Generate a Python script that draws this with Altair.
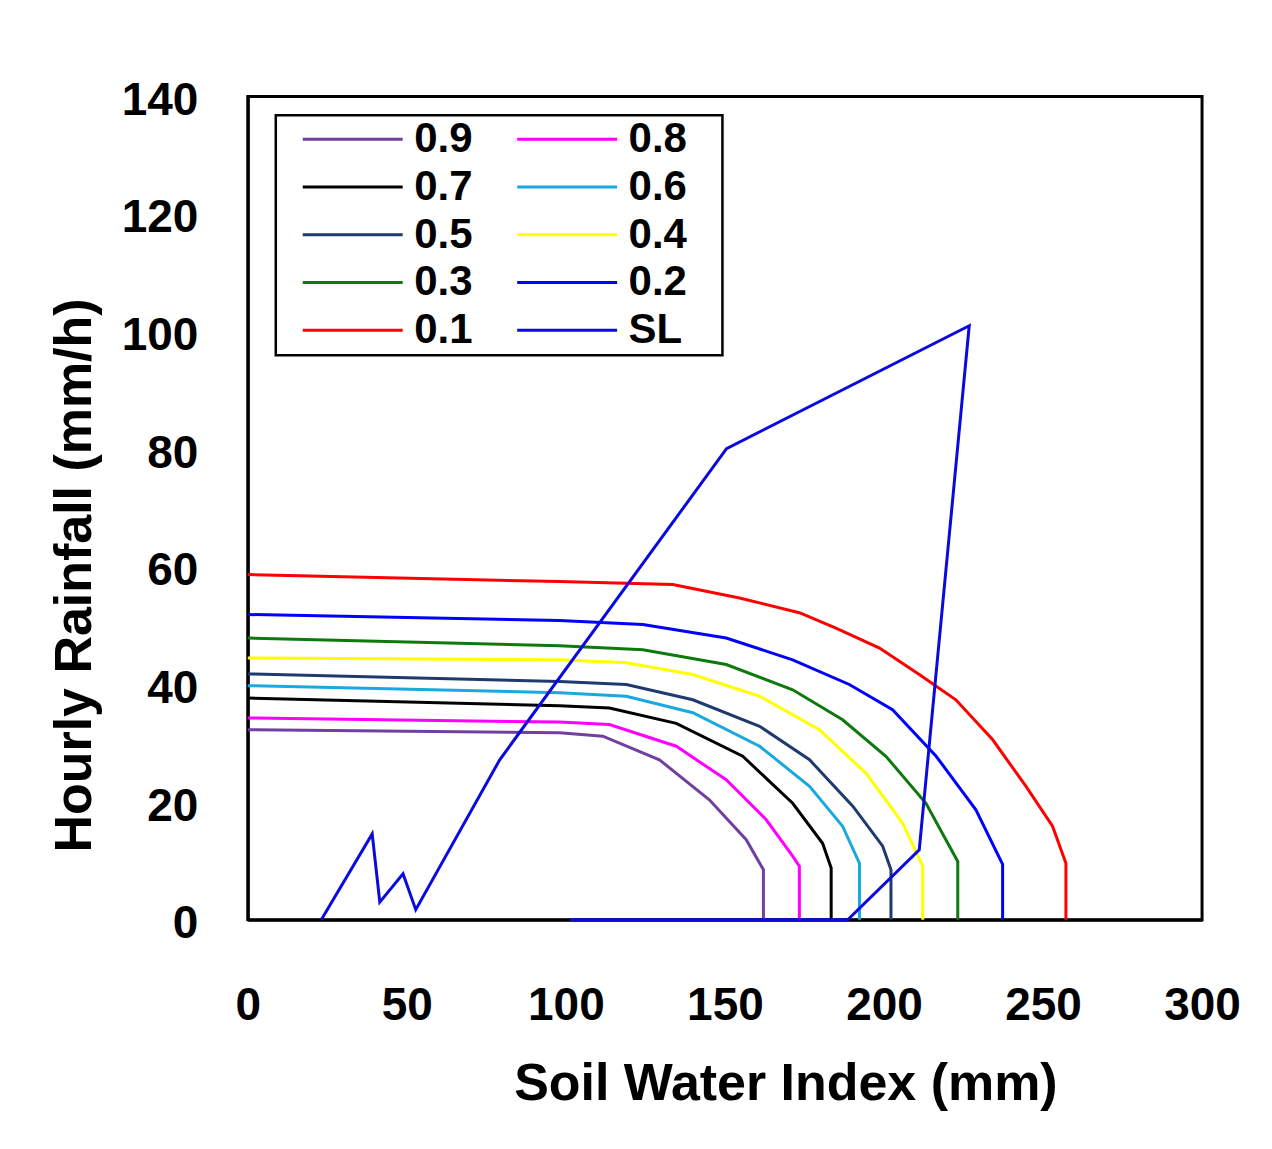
import altair as alt
import pandas as pd

# legend is filled column by column: column 1 then column 2
series = ["0.9", "0.7", "0.5", "0.3", "0.1", "0.8", "0.6", "0.4", "0.2", "SL"]
colors = ["#7040A0", "#000000", "#1F3A6E", "#0E7A0E", "#FF0000",
          "#FF00FF", "#1AA8E0", "#FFFF00", "#0000FF", "#0A0AE0"]

x_09 = [0, 98, 111.6, 129.4, 145.1, 156.7, 162.1, 162.1]
y_09 = [32.3, 31.8, 31.2, 27.2, 20.4, 13.6, 8.5, 0]
x_08 = [0, 98, 113.7, 134.7, 150.4, 163.0, 171.3, 173.4, 173.4]
y_08 = [34.3, 33.6, 33.2, 29.5, 23.8, 17.0, 10.8, 9.1, 0]
x_07 = [0, 98, 113.7, 134.7, 155.6, 171.3, 180.7, 183.4, 183.4]
y_07 = [37.7, 36.4, 36.0, 33.4, 27.8, 19.8, 13.0, 8.8, 0]
x_06 = [0, 98, 119.0, 139.9, 160.9, 176.6, 187.0, 192.3, 192.3]
y_06 = [39.8, 38.6, 38.0, 35.2, 29.5, 22.7, 15.9, 9.6, 0]
x_05 = [0, 98, 119.0, 139.9, 160.9, 176.6, 190.2, 199.6, 202.2, 202.2]
y_05 = [41.8, 40.5, 40.0, 37.4, 32.9, 27.2, 19.3, 12.5, 8.5, 0]
x_04 = [0, 98, 119.0, 139.9, 160.9, 179.7, 194.4, 205.9, 212.2, 212.2]
y_04 = [44.5, 44.2, 43.7, 41.7, 38.0, 32.3, 24.9, 16.4, 9.1, 0]
x_03 = [0, 98, 124.2, 150.4, 171.3, 187.0, 200.6, 213.2, 223.2, 223.2]
y_03 = [47.9, 46.6, 45.9, 43.4, 39.1, 34.0, 27.8, 19.8, 9.9, 0]
x_02 = [0, 98, 124.2, 150.4, 171.3, 189.1, 202.7, 216.4, 228.9, 237.3, 237.3]
y_02 = [51.9, 50.9, 50.2, 47.9, 44.2, 40.0, 35.7, 27.8, 18.7, 9.4, 0]
x_01 = [0, 98, 133.6, 154.6, 173.4, 184.9, 198.6, 211.1, 222.6, 234.2, 244.6, 253.0, 257.2, 257.2]
y_01 = [58.7, 57.5, 57.0, 54.7, 52.2, 49.6, 46.2, 41.7, 37.4, 30.6, 22.7, 15.9, 9.6, 0]
x_sl = [23.1, 39.1, 41.5, 48.8, 52.8, 79.2, 150.5, 226.8, 211.1, 188.6, 101.2]
y_sl = [0, 14.6, 3.0, 7.8, 1.7, 27.2, 80.1, 101.0, 11.9, 0, 0]

x_ticks = [0, 50, 100, 150, 200, 250, 300]
y_ticks = [0, 20, 40, 60, 80, 100, 120, 140]

groups = [("0.9", x_09, y_09), ("0.8", x_08, y_08), ("0.7", x_07, y_07),
          ("0.6", x_06, y_06), ("0.5", x_05, y_05), ("0.4", x_04, y_04),
          ("0.3", x_03, y_03), ("0.2", x_02, y_02), ("0.1", x_01, y_01),
          ("SL", x_sl, y_sl)]
rows = []
for name, xs, ys in groups:
    for i, (a, b) in enumerate(zip(xs, ys)):
        rows.append({"series": name, "swi": a, "rain": b, "idx": i})
df = pd.DataFrame(rows)

FONT = "Liberation Sans"
BLANK = "\u2800"

chart = alt.Chart(df).mark_line(strokeWidth=3).encode(
    x=alt.X("swi:Q",
            scale=alt.Scale(domain=[0, 300], nice=False, zero=False),
            axis=alt.Axis(title="Soil Water Index (mm)", values=x_ticks,
                          labelPadding=64, labelFlush=False,
                          titleX=538, titleY=180,
                          titleAlign="center", titleBaseline="alphabetic")),
    y=alt.Y("rain:Q",
            scale=alt.Scale(domain=[0, 140], nice=False),
            axis=alt.Axis(title="Hourly Rainfall (mm/h)", values=y_ticks,
                          labelPadding=50, labelOffset=4,
                          titleX=-157, titleY=479, titleAngle=270,
                          titleAlign="center", titleBaseline="alphabetic")),
    color=alt.Color("series:N",
                    scale=alt.Scale(domain=series, range=colors),
                    legend=alt.Legend(
                        title=None, orient="none", legendX=28, legendY=19,
                        columns=2, symbolType="stroke", symbolSize=10000,
                        symbolStrokeWidth=3, symbolOffset=21.5,
                        labelOffset=10, labelFontSize=42, labelFont=FONT,
                        labelFontWeight="bold", labelColor="#000000",
                        strokeColor="#000000", fillColor="#FFFFFF",
                        padding=4, rowPadding=5.75, columnPadding=21.6,
                        clipHeight=40,
                        labelExpr="indexof(['0.8','0.6','0.4','0.2','SL'], datum.label) >= 0 ? datum.label + '" + BLANK + "' : datum.label")),
    order=alt.Order("idx:Q"),
).properties(
    width=955, height=824,
    background="#FFFFFF",
    autosize=alt.AutoSizeParams(type="none"),
    padding={"left": 240, "top": 88, "right": 62, "bottom": 221},
).configure_view(
    stroke="#000000", strokeWidth=3
).configure_axis(
    domainColor="#000000", domainWidth=3, ticks=False, tickSize=0, grid=False,
    labelFont=FONT, labelFontSize=46, labelFontWeight="bold", labelColor="#000000",
    titleFont=FONT, titleFontSize=52, titleFontWeight="bold", titleColor="#000000",
).configure_legend(
    strokeWidth=2.5
)

chart.save("out.html", embed_options={"renderer": "svg", "actions": False})
